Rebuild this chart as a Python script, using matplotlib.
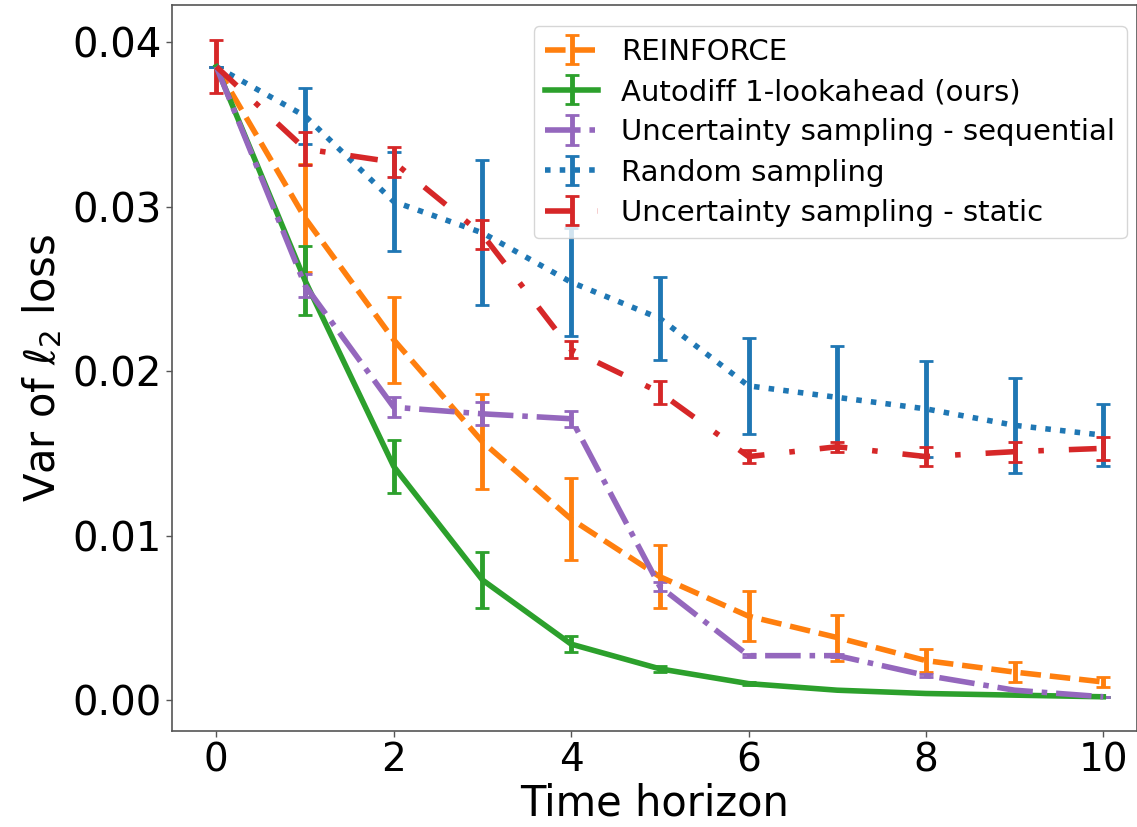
import matplotlib
matplotlib.use("Agg")
import matplotlib.pyplot as plt
import numpy as np

horizon = [0, 1, 2, 3, 4, 5, 6, 7, 8, 9, 10]

reinforce_mean = [0.0385, 0.0293, 0.0219, 0.0157, 0.0110, 0.0075, 0.0051, 0.0038, 0.0024, 0.0017, 0.0011]
reinforce_err = [0.0, 0.0033, 0.0026, 0.0029, 0.0025, 0.0019, 0.0015, 0.0014, 0.0007, 0.0006, 0.0003]

autodiff_mean = [0.0385, 0.0255, 0.0142, 0.0073, 0.0034, 0.0019, 0.0010, 0.0006, 0.0004, 0.0003, 0.0002]
autodiff_err = [0.0, 0.0021, 0.0016, 0.0017, 0.0005, 0.0002, 0.0001, 0.0, 0.0, 0.0, 0.0]

unc_seq_mean = [0.0385, 0.0252, 0.0178, 0.0174, 0.0171, 0.0069, 0.0027, 0.0027, 0.0015, 0.0006, 0.0002]
unc_seq_err = [0.0, 0.0007, 0.0006, 0.0007, 0.0005, 0.0003, 0.0001, 0.0001, 0.0001, 0.0, 0.0]

random_mean = [0.0385, 0.0355, 0.0303, 0.0284, 0.0254, 0.0232, 0.0191, 0.0184, 0.0177, 0.0167, 0.0161]
random_err = [0.0, 0.0017, 0.0030, 0.0044, 0.0033, 0.0025, 0.0029, 0.0031, 0.0029, 0.0029, 0.0019]

unc_static_mean = [0.0385, 0.0335, 0.0327, 0.0283, 0.0213, 0.0187, 0.0148, 0.0154, 0.0148, 0.0151, 0.0153]
unc_static_err = [0.0016, 0.0010, 0.0009, 0.0009, 0.0005, 0.0007, 0.0004, 0.0003, 0.0006, 0.0006, 0.0007]

series = [
    ("REINFORCE", reinforce_mean, reinforce_err, "#ff7f0e", "--"),
    ("Autodiff 1-lookahead (ours)", autodiff_mean, autodiff_err, "#2ca02c", "-"),
    ("Uncertainty sampling - sequential", unc_seq_mean, unc_seq_err, "#9467bd", "-."),
    ("Random sampling", random_mean, random_err, "#1f77b4", ":"),
    ("Uncertainty sampling - static", unc_static_mean, unc_static_err, "#d62728",
     (0, (5, 4.5, 1, 4.5))),
]

fig = plt.figure(figsize=(11.37, 8.27), dpi=100)
ax = fig.add_axes([172 / 1137, 1 - 731 / 827, (1137 - 172) / 1137, (731 - 5) / 827])

for label, mean, err, color, ls in series:
    ax.errorbar(horizon, mean, yerr=err, label=label, color=color,
                linestyle=ls, linewidth=4, elinewidth=3.5, capsize=5, capthick=2)

ax.set_xlim(-0.5, 10.38)
ax.set_ylim(-0.00188, 0.04225)
ax.set_xticks([0, 2, 4, 6, 8, 10])
ax.set_yticks([0.0, 0.01, 0.02, 0.03, 0.04])
ax.set_yticklabels(["0.00", "0.01", "0.02", "0.03", "0.04"])
ax.tick_params(axis="x", labelsize=28)
ax.tick_params(axis="y", labelsize=29)
ax.tick_params(color="#555555", length=4, width=1)
for sp in ax.spines.values():
    sp.set_color("#555555")
    sp.set_linewidth(1.2)

ax.set_xlabel("Time horizon", fontsize=30, labelpad=2)
ax.set_ylabel(r"Var of $\ell_2$ loss", fontsize=30, labelpad=6)

ax.legend(loc="upper right", fontsize=21, handlelength=1.8, borderaxespad=0.35,
          labelspacing=0.42, framealpha=0.8, bbox_to_anchor=(1.0, 0.985))

fig.savefig("out.png", dpi=100)
